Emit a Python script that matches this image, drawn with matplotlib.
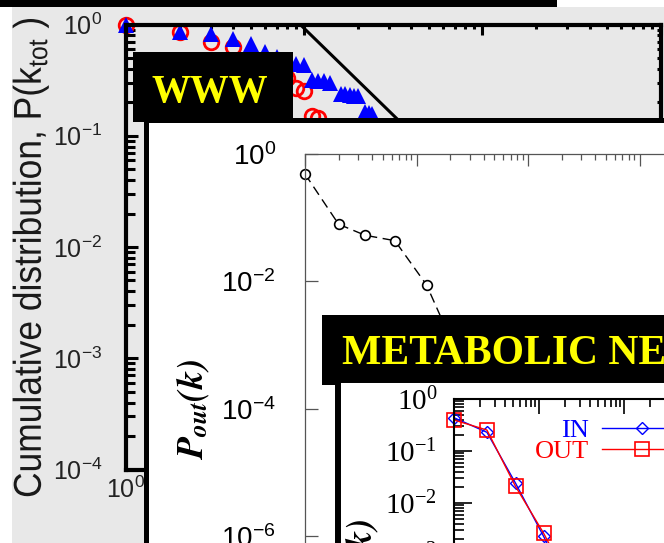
import matplotlib
matplotlib.use("Agg")
import matplotlib.pyplot as plt
from matplotlib.patches import Rectangle
from matplotlib.patheffects import AbstractPathEffect
from matplotlib.transforms import Affine2D
from matplotlib.ticker import FixedLocator, NullLocator, NullFormatter, LogLocator

# ---------------- data ----------------
# WWW: cumulative distribution of total degree
www_k_tri = [1, 2, 3, 4, 5, 6, 7, 8, 9, 10, 11, 12, 13, 14, 16, 17, 18, 19, 20,
             22, 23, 24, 28, 35, 45, 60, 80, 110, 150, 200]
www_p_tri = [1.0, 0.86, 0.83, 0.74, 0.67, 0.565, 0.51, 0.47, 0.44, 0.43, 0.315,
             0.31, 0.31, 0.30, 0.235, 0.235, 0.232, 0.23, 0.228, 0.162, 0.16,
             0.158, 0.11, 0.07, 0.045, 0.025, 0.014, 0.007, 0.0035, 0.0016]
www_k_circ = [1, 2, 3, 4, 5, 6, 7, 8, 9, 10, 11, 12, 15, 20, 30, 50]
www_p_circ = [1.0, 0.85, 0.70, 0.63, 0.47, 0.42, 0.37, 0.33, 0.27, 0.255, 0.15,
              0.145, 0.09, 0.05, 0.02, 0.006]
www_fit_k = [9.5, 1000]
www_fit_p = [1.0, 7.0e-4]

# P_out(k)
pout_k = [1, 2, 3.45, 6.4, 12.3, 23]
pout_p = [0.485, 0.079, 0.053, 0.0435, 0.0088, 7.5e-4]

# metabolic network, in/out degree
met_k = [1, 2.44, 5.3, 11.3, 24]
met_in = [0.437, 0.229, 0.024, 0.0023, 2.0e-4]
met_out = [0.395, 0.253, 0.0208, 0.00265, 2.5e-4]

plt.rcParams["font.family"] = ["Liberation Sans", "DejaVu Sans"]

W, H, DPI = 664, 543, 100
fig = plt.figure(figsize=(W / DPI, H / DPI), dpi=DPI, facecolor="white")


def fxy(x, y):
    return x / W, 1 - y / H


def px_rect(l, t, r, b):
    return [l / W, 1 - b / H, (r - l) / W, (b - t) / H]


def add_box(l, t, r, b, z, face, edge=None, lw=0.0):
    fig.add_artist(Rectangle(fxy(l, b), (r - l) / W, (b - t) / H,
                             transform=fig.transFigure, facecolor=face,
                             edgecolor=edge if edge else face, linewidth=lw,
                             zorder=z))


class Squeeze(AbstractPathEffect):
    """Narrow the glyphs along the reading direction."""

    def __init__(self, sx):
        super().__init__()
        self.sx = sx

    def draw_path(self, renderer, gc, tpath, affine, rgbFace=None):
        renderer.draw_path(gc, tpath, Affine2D().scale(self.sx, 1.0) + affine,
                           rgbFace)


# background pieces
add_box(0, 0, 557, 7, 0.1, "black")
add_box(12, 7, 700, 600, 0.1, "#e8e8e8")

# ---------------- WWW panel ----------------
ax1 = fig.add_axes(px_rect(126, 24.5, 660.5, 469.5))
ax1.set_zorder(1)
ax1.set_facecolor("none")
ax1.set_xscale("log")
ax1.set_yscale("log")
ax1.set_xlim(1, 1000)
ax1.set_ylim(1e-4, 1)
for s in ax1.spines.values():
    s.set_linewidth(3)
    s.set_color("black")
ax1.plot(www_k_circ, www_p_circ, "o", mfc="none", mec="red", ms=10.5, mew=2,
         clip_on=False)
ax1.plot(www_k_tri, www_p_tri, "^", color="blue", ms=11, mew=0, clip_on=False)
ax1.plot(www_fit_k, www_fit_p, "-", color="black", lw=2.2)
ax1.xaxis.set_ticks_position("both")
ax1.tick_params(axis="x", which="both", direction="in", width=2.2,
                labelsize=18, pad=5, labelcolor="#222")
ax1.tick_params(axis="x", which="major", length=7.2)
ax1.tick_params(axis="x", which="minor", length=2.9)
ax1.yaxis.set_major_locator(FixedLocator([1, 1e-1, 1e-2, 1e-3, 1e-4]))
ax1.yaxis.set_minor_locator(LogLocator(base=10, subs=range(2, 10), numticks=20))
ax1.tick_params(axis="y", which="both", direction="in", width=2.2,
                labelsize=18, pad=17, labelcolor="#222")
ax1.tick_params(axis="y", which="major", length=8.6)
ax1.tick_params(axis="y", which="minor", length=6.5)
ax1.xaxis.set_minor_formatter(NullFormatter())
ax1.yaxis.set_minor_formatter(NullFormatter())

ax1r = ax1.twinx()
ax1r.set_zorder(1.1)
ax1r.set_yscale("log")
ax1r.set_ylim(1e-4, 1)
ax1r.yaxis.set_minor_locator(LogLocator(base=10, subs=range(2, 10), numticks=20))
ax1r.tick_params(axis="y", which="both", direction="in", length=2.9, width=2.2,
                 labelright=False)
for s in ax1r.spines.values():
    s.set_visible(False)

fig.text(*fxy(11, 498), r"Cumulative distribution, P($\mathdefault{k}_{\mathdefault{tot}}$ )",
         rotation=90, ha="left", va="bottom", fontsize=28, color="#1a1a1a",
         path_effects=[Squeeze(0.91)], zorder=1.5)

add_box(133, 52, 293, 122, 2, "black")
fig.text(*fxy(210, 102), "WWW", ha="center", va="baseline", color="#ffff00",
         fontsize=28, fontweight="bold", family="Liberation Serif", zorder=2.1)

# ---------------- P_out panel ----------------
add_box(145.5, 119.5, 900, 900, 3, "white", "black", 3.6)

ax2 = fig.add_axes(px_rect(305, 154, 751, 663.4))
ax2.set_zorder(4)
ax2.set_facecolor("none")
ax2.set_xscale("log")
ax2.set_yscale("log")
ax2.set_xlim(1, 1e4)
ax2.set_ylim(1e-8, 1)
for name, s in ax2.spines.items():
    s.set_color("#555")
    s.set_linewidth(0.9)
ax2.plot(pout_k, pout_p, color="black", lw=1.0, ls=(0, (7, 4)), marker="o",
         ms=7, mfc="white", mec="black", mew=1.2, clip_on=False)
ax2.xaxis.tick_top()
ax2.tick_params(axis="x", which="both", direction="in", labeltop=False,
                color="#555", width=0.9)
ax2.tick_params(axis="x", which="major", length=8.5)
ax2.tick_params(axis="x", which="minor", length=4.3)
ax2.yaxis.set_major_locator(FixedLocator([1, 1e-2, 1e-4, 1e-6, 1e-8]))
ax2.yaxis.set_minor_locator(NullLocator())
ax2.tick_params(axis="y", which="major", direction="in", length=9,
                color="#555", width=0.9, labelsize=20, pad=21)
ax2.text(*fxy(193, 410), r"$\mathbfit{P}_{\mathbfit{out}}\mathbfit{(k)}$",
         transform=fig.transFigure, rotation=90, ha="center", va="center",
         fontsize=26, math_fontfamily="stix")

# ---------------- metabolic panel ----------------
add_box(322, 315, 900, 385, 5, "black")
fig.text(*fxy(342, 363), "METABOLIC NETWORK", ha="left", va="baseline",
         color="#ffff00", fontsize=30, fontweight="bold",
         family="Liberation Serif", zorder=5.1)

add_box(338, 380, 900, 900, 6, "white", "black", 4.3)

ax3 = fig.add_axes(px_rect(454, 399, 709, 659))
ax3.set_zorder(7)
ax3.set_facecolor("none")
ax3.set_xscale("log")
ax3.set_yscale("log")
ax3.set_xlim(1, 1e3)
ax3.set_ylim(1e-5, 1)
for s in ax3.spines.values():
    s.set_linewidth(1.5)
ax3.plot(met_k, met_in, color="blue", lw=1.0, marker="D", ms=6.5, mfc="none",
         mec="blue", mew=1.0, label="IN", clip_on=False)
ax3.plot(met_k, met_out, color="red", lw=1.0, marker="s", ms=10, mfc="none",
         mec="red", mew=1.2, label="OUT", clip_on=False)
ax3.xaxis.tick_top()
ax3.tick_params(axis="x", which="both", direction="in", labeltop=False,
                width=1.2)
ax3.tick_params(axis="x", which="major", length=11)
ax3.tick_params(axis="x", which="minor", length=6)
ax3.yaxis.set_major_locator(FixedLocator([1, 1e-1, 1e-2, 1e-3, 1e-4, 1e-5]))
ax3.yaxis.set_minor_locator(LogLocator(base=10, subs=range(2, 10), numticks=20))
ax3.tick_params(axis="y", which="both", direction="in", width=1.2,
                labelsize=21, pad=12, labelfontfamily="Liberation Serif")
ax3.tick_params(axis="y", which="major", length=13)
ax3.tick_params(axis="y", which="minor", length=7)
ax3.yaxis.set_minor_formatter(NullFormatter())
ax3.legend(loc="upper left", bbox_to_anchor=fxy(535, 419),
           bbox_transform=fig.transFigure, frameon=False, markerfirst=False,
           handlelength=3.0, handletextpad=0.5, labelspacing=-0.1,
           borderpad=0, borderaxespad=0,
           prop={"family": "Liberation Serif", "size": 19},
           labelcolor="linecolor")
ax3.text(*fxy(362, 519), r"$\mathbfit{P(k)}$", transform=fig.transFigure,
         rotation=90, ha="center", va="top", fontsize=26,
         math_fontfamily="stix")

fig.savefig("out.png", dpi=DPI)
